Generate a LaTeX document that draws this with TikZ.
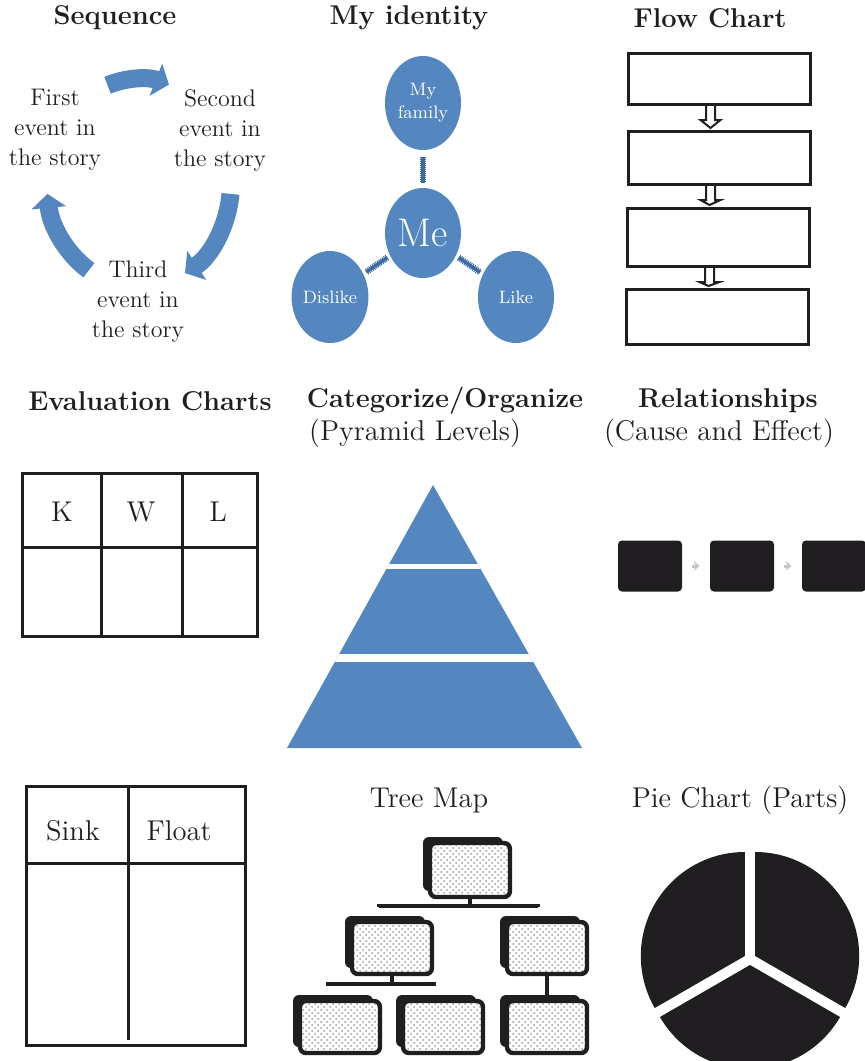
\documentclass[tikz,border=0pt]{standalone}
\usetikzlibrary{arrows.meta,calc,shadows,patterns,positioning,shapes.geometric}
\definecolor{ppblue}{RGB}{84,134,192}
\definecolor{linkblue}{RGB}{60,106,162}
\definecolor{inkblack}{RGB}{32,30,32}

\tikzset{
  heading/.style={text=inkblack,font=\fontsize{13.6}{16}\selectfont\bfseries},
  caption/.style={text=inkblack,font=\fontsize{14.3}{17}\selectfont},
  seqtext/.style={align=center,text=inkblack,font=\fontsize{12}{15}\selectfont},
  seqarrow/.style={ppblue,line width=9pt,-{Triangle[width=17pt,length=7pt]}},
  bubble/.style={ellipse,fill=ppblue,text=white,minimum width=38pt,minimum height=46pt,inner sep=0pt,align=center,font=\fontsize{9}{11.5}\selectfont},
  link/.style={linkblue,line width=1.6pt,postaction={draw,linkblue,line width=3.2pt,dash pattern=on 0.5pt off 0.5pt}},
  flowbox/.style={draw=inkblack,line width=1.5pt,anchor=north west,minimum width=91pt,inner sep=0pt},
  hollowarrow/.style={draw=inkblack,fill=white,line width=1pt,line join=miter},
  tableline/.style={inkblack,line width=1.5pt},
  relbox/.style={fill=inkblack,rounded corners=2pt,minimum width=32pt,minimum height=25.5pt,inner sep=0pt},
  relarrow/.style={gray!45,line width=1.5pt,-{Stealth[length=3pt,width=5pt]},shorten <=5pt,shorten >=5pt},
  treebox/.style={general shadow={fill=inkblack,shadow xshift=-3.5pt,shadow yshift=3pt},
    preaction={fill=white},pattern=crosshatch dots,pattern color=gray!75,
    draw=inkblack,line width=2.2pt,rounded corners=3pt,minimum width=40pt,minimum height=26pt,inner sep=0pt},
  treeline/.style={inkblack,line width=2pt}
}

\begin{document}
\begin{tikzpicture}[x=0.5pt,y=-0.5pt]
  \useasboundingbox (0,0) rectangle (865,1061);
  % headings
  \node[heading] (hseq) at (115,18) {Sequence};
  \node[heading] (hid) at (409,18) {My identity};
  \node[heading] (hflow) at (710,18) {Flow Chart};
  \node[heading] (heval) at (150,401) {Evaluation Charts};
  \node[heading] (hcat) at (445,401) {Categorize/Organize};
  \node[caption] (hpyr) at (415,433) {(Pyramid Levels)};
  \node[heading] (hrel) at (728,401) {Relationships};
  \node[caption] (hcause) at (719,433) {(Cause and Effect)};
  \node[caption] (htree) at (429,800) {Tree Map};
  \node[caption] (hpie) at (740,800) {Pie Chart (Parts)};

  % sequence
  \node[seqtext] (first) at (55,130) {First\\event in\\the story};
  \node[seqtext] (second) at (220,130) {Second\\event in\\the story};
  \node[seqtext] (third) at (138,302) {Third\\event in\\the story};
  \coordinate (seqc) at (139,183);
  \draw[seqarrow] ([shift={(-110:92 and 104)}]seqc) arc[start angle=-110,end angle=-71,x radius=92,y radius=104];
  \draw[seqarrow] ([shift={(6:92 and 104)}]seqc) arc[start angle=6,end angle=60,x radius=92,y radius=104];
  \draw[seqarrow] ([shift={(123:92 and 104)}]seqc) arc[start angle=123,end angle=174,x radius=92,y radius=104];

  % my identity
  \node[bubble,minimum height=47pt] (fam) at (423,103) {My\\family};
  \node[bubble,minimum height=45pt,font=\fontsize{20}{22}\selectfont] (me) at (423,233) {Me};
  \node[bubble] (dis) at (330,297) {Dislike};
  \node[bubble] (like) at (516,297) {Like};
  \draw[link,shorten <=3.5pt,shorten >=2.5pt] (fam) -- (me);
  \draw[link,shorten <=1.5pt,shorten >=1.5pt] (me) -- (dis);
  \draw[link,shorten <=1.5pt,shorten >=1.5pt] (me) -- (like);

  % flow chart
  \node[flowbox,minimum height=25.5pt] (f1) at (627,52) {};
  \node[flowbox,minimum height=26.5pt] (f2) at (627,130) {};
  \node[flowbox,minimum height=29pt] (f3) at (626,207) {};
  \node[flowbox,minimum height=27.5pt] (f4) at (625,288) {};
  \foreach \a/\b in {f1/f2,f2/f3,f3/f4}
    \draw[hollowarrow] ($(\a.south)+(-13.5,0)$) -- ($(\a.south)+(-13.5,14)$) -- ($(\a.south)+(-19,14)$)
      -- ($(\b.north)+(-9,-2)$) -- ($(\a.south)+(1,14)$) -- ($(\a.south)+(-4.5,14)$) -- ($(\a.south)+(-4.5,0)$);

  % evaluation chart
  \draw[tableline] (22,473) rectangle (257,636);
  \draw[tableline] (22,547) -- (257,547) (101,473) -- (101,636) (182,473) -- (182,636);
  \node[caption] (k) at (62,512) {K};
  \node[caption] (w) at (141,512) {W};
  \node[caption] (l) at (218,512) {L};

  % pyramid
  \begin{scope}
    \clip (433,485) -- (582,748) -- (287,748) -- cycle;
    \fill[ppblue] (280,480) rectangle (590,750);
    \draw[white,line width=2.5pt] (280,566.5) -- (590,566.5);
    \draw[white,line width=4pt] (280,658) -- (590,658);
  \end{scope}

  % cause and effect
  \node[relbox] (r1) at (650,566) {};
  \node[relbox] (r2) at (742,566) {};
  \node[relbox] (r3) at (834,566) {};
  \draw[relarrow] (r1) -- (r2);
  \draw[relarrow] (r2) -- (r3);

  % sink / float
  \draw[tableline] (26,786) rectangle (245,1045);
  \draw[tableline] (26,863) -- (245,863) (128,786) -- (128,1040);
  \node[caption] (sink) at (73,831) {Sink};
  \node[caption] (float) at (179,831) {Float};

  % tree map
  \node[treebox,minimum height=27pt] (t0) at (470,870) {};
  \node[treebox] (tl) at (392,948) {};
  \node[treebox] (tr) at (547,948) {};
  \node[treebox] (ta) at (340,1027) {};
  \node[treebox] (tb) at (443,1027) {};
  \node[treebox] (tc) at (547,1027) {};
  \draw[treeline] (t0.south) -- ++(0,7) coordinate (j1);
  \draw[treeline] ($(tl.north)+(-13,-13)$) |- (j1) -| ($(tr.north)+(-9,-13)$);
  \draw[treeline] (tl.south) -- ++(0,8) coordinate (j2);
  \draw[treeline] ($(ta.north)+(-12,-13)$) |- (j2) -| ($(tb.north)+(-9,-13)$);
  \draw[treeline] (tr.south) -- (tc.north);

  % pie chart
  \begin{scope}[shift={(750,959)}]
    \fill[inkblack,shift={(-30:6)}] (0,0) -- (30:104) arc[start angle=30,end angle=-90,radius=104] -- cycle;
    \fill[inkblack,shift={(-150:6)}] (0,0) -- (-90:104) arc[start angle=-90,end angle=-210,radius=104] -- cycle;
    \fill[inkblack,shift={(90:6)}] (0,0) -- (-210:104) arc[start angle=-210,end angle=-330,radius=104] -- cycle;
  \end{scope}
\end{tikzpicture}
\end{document}
